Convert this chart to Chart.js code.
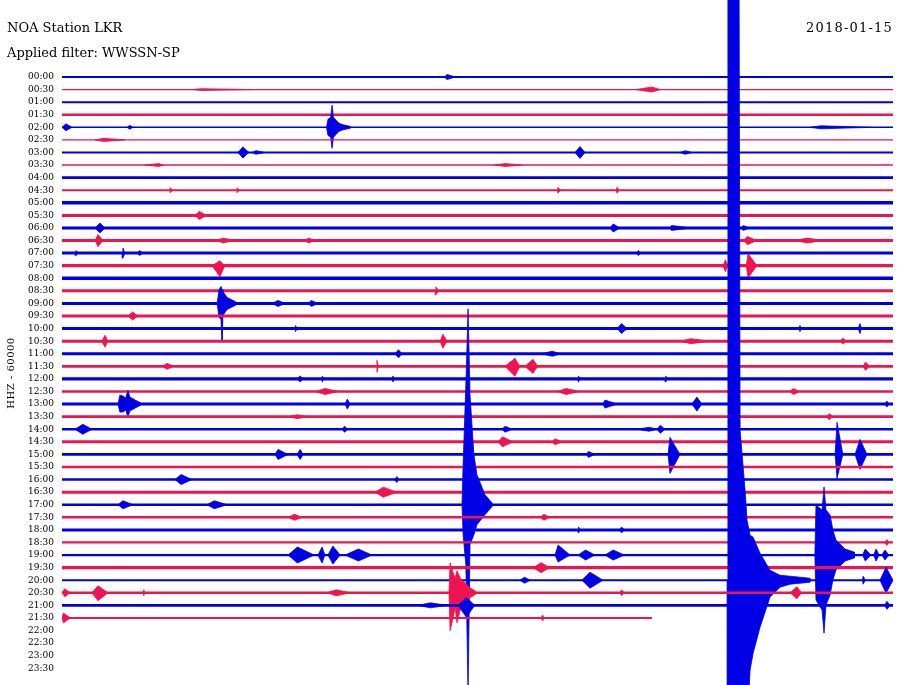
<!DOCTYPE html>
<html>
<head>
<meta charset="utf-8">
<script src="https://cdn.jsdelivr.net/npm/chart.js@4/dist/chart.umd.min.js"></script>
<style>
  html, body { margin: 0; padding: 0; background: #fff; }
  #wrap { width: 900px; height: 685px; }
</style>
</head>
<body>
<div id="wrap"><canvas id="heli" width="900" height="685"></canvas></div>
<script>
// Helicorder rows, 30 minutes each
const rowLabels = [];
for (let h = 0; h < 24; h++) {
    const hh = String(h).padStart(2, '0');
    rowLabels.push(hh + ':00', hh + ':30');
}

// last minute recorded on each row (only 21:30 is partial)
const rowEnds = [
    30, 30, 30, 30, 30, 30, 30, 30, 30, 30, 30, 30, 30, 30, 30, 30,
    30, 30, 30, 30, 30, 30, 30, 30, 30, 30, 30, 30, 30, 30, 30, 30,
    30, 30, 30, 30, 30, 30, 30, 30, 30, 30, 30, 21.3
];

// background noise half-amplitude per row
const rowNoise = [
    1.0, 0.6, 1.0, 1.3, 0.7, 0.7, 1.0, 0.8, 1.3, 1.0, 1.7, 1.5, 1.5, 1.5, 1.5, 1.6,
    1.8, 1.5, 1.5, 1.5, 1.5, 1.5, 1.5, 1.4, 1.7, 1.3, 1.5, 1.3, 1.3, 1.5, 1.4, 1.3,
    1.3, 1.5, 1.2, 1.3, 1.5, 1.1, 1.1, 1.7, 1.0, 1.2, 1.3, 1.0
];

// small events: [row, start min, peak min, end min, amp up, amp down]
const smallEvents = [
    [0, 13.80, 13.90, 14.20, 2.5],
    [1, 4.70, 5.00, 6.90, 0.9], [1, 20.70, 21.30, 21.60, 2.5],
    [4, 0, 0.14, 0.36, 3.5], [4, 2.35, 2.45, 2.56, 2], [4, 27.0, 27.4, 29.2, 1.5],
    [5, 1.19, 1.50, 2.27, 1.6],
    [6, 6.35, 6.53, 6.75, 5.5], [6, 6.86, 7.00, 7.33, 1.8], [6, 18.52, 18.70, 18.88, 6], [6, 22.31, 22.50, 22.74, 1.8],
    [7, 3.00, 3.50, 3.65, 1.5], [7, 15.60, 16.00, 16.60, 1.5],
    [9, 3.90, 3.90, 4.00, 2.5], [9, 6.32, 6.32, 6.40, 2.5], [9, 17.90, 17.90, 18.00, 3], [9, 20.00, 20.04, 20.10, 3],
    [11, 4.80, 4.95, 5.23, 4],
    [12, 1.19, 1.37, 1.55, 5], [12, 19.78, 19.90, 20.14, 4], [12, 21.95, 22.00, 22.74, 2.5], [12, 24.50, 24.60, 24.80, 2.5],
    [13, 1.19, 1.30, 1.48, 6], [13, 5.63, 5.80, 6.25, 2.5], [13, 8.77, 8.90, 9.13, 2.5], [13, 24.58, 24.75, 25.09, 4], [13, 26.46, 26.90, 27.50, 2.5],
    [14, 0.47, 0.50, 0.60, 2.5], [14, 2.17, 2.20, 2.27, 5], [14, 2.71, 2.80, 2.92, 2.5], [14, 20.76, 20.80, 20.90, 2.5],
    [15, 5.42, 5.70, 5.88, 5, 11], [15, 23.86, 23.95, 24.04, 6], [15, 24.70, 24.77, 25.09, 12],
    [17, 13.47, 13.50, 13.60, 4],
    [18, 7.58, 7.80, 8.05, 3], [18, 8.88, 9.00, 9.24, 3],
    [19, 2.38, 2.55, 2.74, 4],
    [20, 8.41, 8.43, 8.50, 3], [20, 20.04, 20.20, 20.40, 5], [20, 26.60, 26.64, 26.70, 3], [20, 28.74, 28.81, 28.85, 5],
    [21, 1.44, 1.55, 1.66, 6], [21, 13.65, 13.75, 13.90, 7], [21, 22.31, 22.70, 23.40, 2.5], [21, 28.09, 28.20, 28.30, 3],
    [22, 12.02, 12.15, 12.27, 4], [22, 17.30, 17.70, 18.00, 2.5],
    [23, 3.61, 3.80, 4.01, 3], [23, 11.37, 11.37, 11.42, 6], [23, 15.99, 16.35, 16.53, 8, 10], [23, 16.71, 17.00, 17.18, 7], [23, 28.92, 29.00, 29.17, 4],
    [24, 8.48, 8.60, 8.70, 3], [24, 9.39, 9.40, 9.45, 3], [24, 11.91, 11.95, 12.00, 3], [24, 18.63, 18.65, 18.70, 3], [24, 21.77, 21.80, 21.85, 3],
    [25, 9.13, 9.50, 10.00, 3], [25, 17.87, 18.20, 18.70, 3], [25, 26.28, 26.40, 26.64, 3],
    [26, 10.22, 10.30, 10.40, 5], [26, 19.53, 19.60, 20.04, 4], [26, 22.74, 22.92, 23.10, 7], [26, 29.70, 29.78, 29.85, 3],
    [27, 8.16, 8.50, 8.88, 2], [27, 27.58, 27.70, 27.83, 3],
    [28, 0.47, 0.75, 1.08, 5], [28, 10.11, 10.20, 10.32, 3], [28, 15.88, 16.00, 16.25, 3], [28, 20.76, 21.20, 21.48, 2], [28, 21.48, 21.60, 21.77, 4],
    [29, 15.74, 15.90, 16.28, 5], [29, 17.69, 17.80, 18.05, 3],
    [30, 7.69, 7.80, 8.16, 5], [30, 8.48, 8.60, 8.70, 5], [30, 18.95, 19.00, 19.24, 3],
    [30, 21.88, 21.95, 22.31, 17, 19], [30, 27.91, 27.98, 28.19, 32, 24], [30, 28.63, 28.81, 29.06, 15],
    [32, 4.08, 4.30, 4.69, 5], [32, 12.00, 12.09, 12.15, 3],
    [33, 11.30, 11.60, 12.09, 5],
    [34, 2.02, 2.20, 2.56, 4], [34, 5.23, 5.50, 5.96, 4],
    [35, 8.16, 8.40, 8.66, 3], [35, 17.26, 17.40, 17.60, 3],
    [36, 18.63, 18.65, 18.70, 3], [36, 20.14, 20.20, 20.30, 3],
    [37, 29.71, 29.78, 29.85, 3],
    [38, 8.16, 8.50, 9.10, 8], [38, 9.24, 9.39, 9.49, 8], [38, 9.60, 9.78, 10.04, 9], [38, 10.22, 10.70, 11.19, 6],
    [38, 17.80, 17.91, 18.34, 10, 7], [38, 18.63, 18.90, 19.24, 5], [38, 19.60, 19.90, 20.30, 5],
    [38, 28.90, 29.00, 29.20, 6], [38, 29.30, 29.39, 29.50, 6], [38, 29.60, 29.71, 29.85, 5],
    [39, 17.00, 17.30, 17.60, 5],
    [40, 16.53, 16.70, 16.90, 3], [40, 18.77, 19.06, 19.53, 8], [40, 28.90, 28.92, 29.00, 4], [40, 29.53, 29.75, 30.00, 13],
    [41, 0, 0.10, 0.29, 4], [41, 1.08, 1.30, 1.66, 7, 8], [41, 2.92, 2.95, 3.00, 3], [41, 9.57, 9.90, 10.40, 3],
    [41, 20.14, 20.20, 20.30, 3], [41, 26.28, 26.53, 26.70, 6],
    [42, 12.85, 13.30, 13.90, 2.5], [42, 14.30, 14.60, 14.90, 8, 12], [42, 29.70, 29.78, 29.90, 4],
    [43, 0, 0.05, 0.30, 5], [43, 17.30, 17.35, 17.40, 3]
];

// larger quakes traced point by point: [minute, amp up, amp down]
const bigEventRows = [4, 18, 26, 34, 38, 40, 41];
const bigEventShapes = [
    [[9.55, 0, 0], [9.60, 8, 8], [9.70, 10, 10], [9.75, 22, 21], [9.80, 10, 10], [9.90, 7, 7], [10.0, 4, 4], [10.15, 2.5, 2.5], [10.4, 1, 1]],
    [[5.60, 0, 0], [5.67, 14, 14], [5.74, 17, 16], [5.78, 14, 37], [5.81, 12, 12], [5.96, 6, 6], [6.25, 2, 2]],
    [[2.02, 0, 0], [2.09, 9, 8], [2.20, 8, 8], [2.30, 6, 6], [2.38, 14, 13], [2.45, 7, 7], [2.64, 4, 4], [2.82, 1.5, 1.5]],
    [[14.44, 0, 0], [14.48, 40, 30], [14.58, 120, 60], [14.66, 196, 190], [14.73, 110, 40], [14.87, 50, 30], [14.98, 30, 20], [15.27, 10, 10], [15.52, 2, 2]],
    [[27.18, 0, 0], [27.22, 50, 45], [27.44, 45, 55], [27.51, 68, 78], [27.58, 45, 50], [27.73, 40, 40], [27.83, 25, 25], [27.94, 15, 15], [28.27, 6, 6], [28.6, 3, 3]],
    [[24.01, 0, 0], [24.04, 640, 200], [24.44, 640, 200], [24.48, 150, 200], [24.66, 90, 200], [24.73, 60, 150],
     [24.84, 45, 90], [24.95, 43, 73], [25.20, 27, 47], [25.56, 10, 17], [25.92, 5, 7], [26.28, 4, 4], [27.0, 2, 2]],
    [[13.97, 0, 0], [14.01, 30, 38], [14.12, 20, 25], [14.19, 15, 15], [14.26, 22, 30], [14.37, 15, 18], [14.55, 10, 10], [14.73, 5, 5], [14.91, 2, 2]]
];

const traceColors = ['#0000e6', '#ee1450'];
const traceSpacing = 12.58;   // amplitude units between two rows
const rowsAbove = 6.12;       // room above the first trace (for the big quake)
const rowsBelow = 48.33;

function rowColor(row) {
    return traceColors[row % 2];
}

// closed outline: upper envelope left to right, then lower envelope back
function outline(row, pts) {
    const top = pts.map(p => ({ x: p[0], y: row - p[1] / traceSpacing }));
    const bottom = pts.slice().reverse().map(p => ({ x: p[0], y: row + p[2] / traceSpacing }));
    return top.concat(bottom);
}

function shapeDataset(row, pts, border) {
    return {
        data: outline(row, pts),
        showLine: true,
        fill: 'shape',
        backgroundColor: rowColor(row),
        borderColor: rowColor(row),
        borderWidth: border,
        pointRadius: 0,
        tension: 0,
        order: 100 - row
    };
}

const datasets = [];
rowEnds.forEach((end, row) => {
    const n = rowNoise[row];
    datasets.push(shapeDataset(row, [[0, n, n], [end, n, n]], 0));
});
smallEvents.forEach(ev => {
    const [row, t0, tp, t1, up] = ev;
    const down = ev.length > 5 ? ev[5] : up;
    datasets.push(shapeDataset(row, [[t0, 0, 0], [tp, up, down], [t1, 0, 0]], 0.8));
});
bigEventRows.forEach((row, k) => {
    datasets.push(shapeDataset(row, bigEventShapes[k], 0.8));
});

const labelsPlugin = {
    id: 'heliText',
    afterDraw(chart) {
        const ctx = chart.ctx;
        ctx.save();
        ctx.fillStyle = '#000';
        ctx.font = '13px "DejaVu Serif"';
        ctx.textBaseline = 'alphabetic';
        ctx.textAlign = 'left';
        ctx.fillText('NOA Station LKR', 7, 32);
        ctx.fillText('Applied filter: WWSSN-SP', 7, 57);
        ctx.textAlign = 'right';
        ctx.letterSpacing = '1.2px';
        ctx.fillText('2018-01-15', 893, 32);
        ctx.translate(14, 373);
        ctx.rotate(-Math.PI / 2);
        ctx.textAlign = 'center';
        ctx.letterSpacing = '0.5px';
        ctx.font = '10px "DejaVu Serif"';
        ctx.fillText('HHZ - 60000', 0, 0);
        ctx.restore();
    }
};

new Chart(document.getElementById('heli'), {
    type: 'scatter',
    data: { datasets: datasets },
    options: {
        responsive: false,
        devicePixelRatio: 1,
        animation: false,
        layout: { padding: { left: 0, right: 7, top: 0, bottom: 0 } },
        plugins: {
            legend: { display: false },
            tooltip: { enabled: false }
        },
        scales: {
            x: {
                type: 'linear',
                min: 0,
                max: 30,
                display: false
            },
            y: {
                type: 'linear',
                reverse: true,
                min: -rowsAbove,
                max: rowsBelow,
                grid: { display: false, drawTicks: false },
                border: { display: false },
                afterBuildTicks(scale) {
                    scale.ticks = rowLabels.map((_, i) => ({ value: i }));
                },
                afterFit(scale) {
                    scale.width = 62;
                    scale.paddingTop = 0;
                    scale.paddingBottom = 0;
                },
                ticks: {
                    autoSkip: false,
                    padding: 8,
                    color: '#000',
                    font: { family: 'DejaVu Serif', size: 9 },
                    callback: (value) => rowLabels[value]
                }
            }
        }
    },
    plugins: [labelsPlugin]
});
</script>
</body>
</html>
